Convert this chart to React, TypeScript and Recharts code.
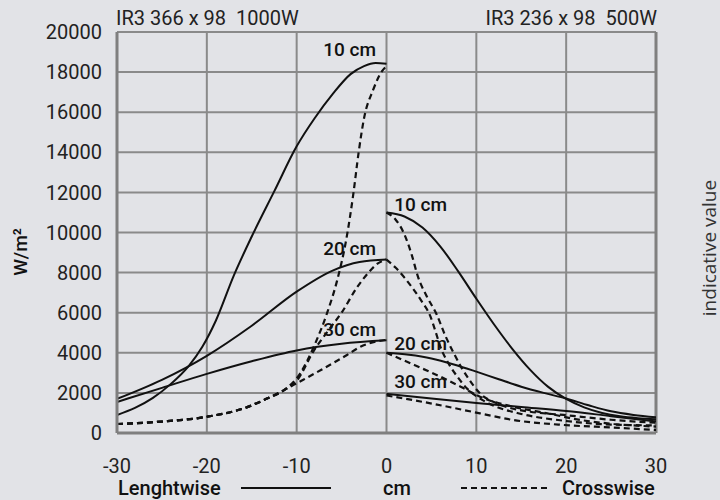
import {
  CartesianGrid,
  Line,
  LineChart,
  ReferenceDot,
  ReferenceLine,
  XAxis,
  YAxis,
} from 'recharts';

type Pt = [number, number];

// IR3 366 x 98 1000W (left half, cm -30..0)
const L10_LENGTH: Pt[] = [
  [-30, 900], [-28, 1250], [-26, 1750], [-24, 2450], [-22, 3350], [-20.5, 4300], [-19, 5600],
  [-17, 7850], [-15, 9800], [-12.5, 12050], [-10, 14300], [-8, 15700], [-6, 16900],
  [-4, 17900], [-2.5, 18300], [-1.2, 18450], [0, 18420],
];
const L20_LENGTH: Pt[] = [
  [-30, 1700], [-25, 2650], [-20, 3850], [-15, 5350], [-10, 7050], [-6, 8100], [-3, 8530], [0, 8650],
];
const L30_LENGTH: Pt[] = [
  [-30, 1550], [-25, 2250], [-20, 2950], [-15, 3580], [-10, 4120], [-5, 4450], [0, 4620],
];
const CROSS_START: Pt[] = [
  [-30, 450], [-25, 570], [-20, 810], [-15.5, 1290], [-13.3, 1720], [-11.4, 2140],
];
const L10_CROSS: Pt[] = [
  ...CROSS_START,
  [-9.6, 2980], [-8, 4400], [-6.6, 6000], [-5.5, 7600], [-4.5, 9600], [-3.7, 11900],
  [-3.1, 14000], [-2.5, 15700], [-1.5, 17100], [-0.5, 18050], [0, 18300],
];
const L20_CROSS: Pt[] = [
  ...CROSS_START,
  [-10, 2600], [-8.1, 4100], [-6.5, 5100], [-5, 6000], [-3.3, 7250], [-2, 8000], [-1, 8450], [0, 8650],
];
const L30_CROSS: Pt[] = [
  ...CROSS_START,
  [-10, 2480], [-7.3, 3140], [-4.4, 3890], [-2.9, 4300], [0, 4650],
];

// IR3 236 x 98 500W (right half, cm 0..30)
const R10_LENGTH: Pt[] = [
  [0, 11000], [2, 10800], [4, 10250], [6, 9300], [8, 8050], [10, 6700], [12, 5400], [14, 4200],
  [16, 3150], [18, 2300], [20, 1700], [22, 1280], [24, 1000], [26, 830], [28, 740], [30, 690],
];
const R20_LENGTH: Pt[] = [
  [0, 4000], [2.5, 3900], [5, 3720], [7.5, 3420], [10, 3060], [12.5, 2680], [15, 2310],
  [17.5, 2000], [20, 1720], [22.5, 1380], [25, 1080], [27.5, 900], [30, 780],
];
const R30_LENGTH: Pt[] = [
  [0, 1950], [5, 1720], [10, 1500], [15, 1300], [20, 1100], [25, 840], [30, 580],
];
const R10_CROSS: Pt[] = [
  [0, 11000], [1, 10650], [2, 9900], [2.8, 8900], [3.5, 7800], [4.5, 6800], [5.6, 5900],
  [6.5, 4900], [7.5, 3970], [8.3, 3300], [9, 2800], [10.4, 1980], [12.3, 1480], [14, 1220],
  [16, 1060], [19.7, 900], [25, 660], [30, 510],
];
const R10B_CROSS: Pt[] = [
  [0, 8650], [1, 8250], [2, 7750], [2.7, 7350], [3.8, 6650], [4.9, 5800], [5.5, 5000], [6, 4300],
  [7, 3400], [7.9, 2800], [9, 2200], [10.1, 1810], [12, 1350], [15, 950], [20, 600], [25, 420], [30, 380],
];
const R20_CROSS: Pt[] = [
  [0, 4000], [3.1, 3390], [6, 2810], [8.6, 2230], [10.4, 1810], [14.1, 1310], [17.9, 980],
  [21.6, 650], [25.3, 450], [30, 320],
];
const R30_CROSS: Pt[] = [
  [0, 1870], [4.9, 1480], [10.4, 980], [14.1, 650], [19.7, 400], [25.3, 270], [30, 150],
];

const LENGTHWISE = [L10_LENGTH, L20_LENGTH, L30_LENGTH, R10_LENGTH, R20_LENGTH, R30_LENGTH];
const CROSSWISE = [L10_CROSS, L20_CROSS, L30_CROSS, R10_CROSS, R10B_CROSS, R20_CROSS, R30_CROSS];

const X_TICKS = [-30, -20, -10, 0, 10, 20, 30];
const Y_TICKS = [0, 2000, 4000, 6000, 8000, 10000, 12000, 14000, 16000, 18000, 20000];

const CURVE_LABELS = [
  { x: -4.1, y: 19150, text: '10 cm' },
  { x: -4.1, y: 9210, text: '20 cm' },
  { x: -4.1, y: 5170, text: '30 cm' },
  { x: 3.8, y: 11420, text: '10 cm' },
  { x: 3.8, y: 4500, text: '20 cm' },
  { x: 3.8, y: 2560, text: '30 cm' },
];

const FONT = 'Roboto, "DejaVu Sans", sans-serif';
const BG = '#e2e3e7';
const GRID = '#8a8a8a';
const FRAME = '#7f7f7f';
const INK = '#111';

const toPts = (arr: Pt[]) => arr.map(([x, y]) => ({ x, y }));

const abs = (style: React.CSSProperties): React.CSSProperties => ({
  position: 'absolute',
  fontFamily: FONT,
  color: '#222',
  whiteSpace: 'pre',
  lineHeight: 1,
  ...style,
});

export default function App() {
  return (
    <div style={{ position: 'absolute', left: 0, top: 0, width: 720, height: 500, background: BG, overflow: 'hidden' }}>
      <LineChart width={720} height={500} margin={{ top: 32, right: 64, bottom: 22, left: 0 }}>
        <CartesianGrid stroke={GRID} strokeWidth={2} />
        <XAxis
          type="number"
          dataKey="x"
          domain={[-30, 30]}
          ticks={X_TICKS}
          height={45}
          tickLine={false}
          tickSize={0}
          tickMargin={26}
          axisLine={{ stroke: FRAME, strokeWidth: 3 }}
          tick={{ fill: '#222', fontSize: 20, fontFamily: FONT }}
          allowDataOverflow
        />
        <YAxis
          type="number"
          domain={[0, 20000]}
          ticks={Y_TICKS}
          width={117}
          tickLine={false}
          tickSize={0}
          tickMargin={15}
          axisLine={{ stroke: FRAME, strokeWidth: 3 }}
          tick={{ fill: '#222', fontSize: 20, fontFamily: FONT }}
          allowDataOverflow
        />
        <ReferenceLine x={30} stroke={FRAME} strokeWidth={3} />
        {LENGTHWISE.map((d, i) => (
          <Line
            key={`len${i}`}
            data={toPts(d)}
            dataKey="y"
            type="monotone"
            stroke={INK}
            strokeWidth={2}
            dot={false}
            activeDot={false}
            isAnimationActive={false}
          />
        ))}
        {CROSSWISE.map((d, i) => (
          <Line
            key={`cross${i}`}
            data={toPts(d)}
            dataKey="y"
            type="monotone"
            stroke={INK}
            strokeWidth={2.2}
            strokeDasharray="6 4"
            dot={false}
            activeDot={false}
            isAnimationActive={false}
          />
        ))}
        {CURVE_LABELS.map((l, i) => (
          <ReferenceDot
            key={`lbl${i}`}
            x={l.x}
            y={l.y}
            r={1}
            fill="none"
            stroke="none"
            ifOverflow="visible"
            label={{ value: l.text, position: 'center', fill: INK, fontSize: 19, fontWeight: 500, fontFamily: FONT }}
          />
        ))}
      </LineChart>

      <div style={abs({ left: 116, top: 8, fontSize: 20 })}>{'IR3 366 x 98  1000W'}</div>
      <div style={abs({ right: 720 - 657, top: 8, fontSize: 20 })}>{'IR3 236 x 98  500W'}</div>

      <div style={abs({ left: 20, top: 252, fontSize: 19, fontWeight: 500, color: INK, transform: 'translate(-50%, -50%) rotate(-90deg)' })}>
        W/m²
      </div>
      <div style={abs({ left: 709, top: 248, fontSize: 19, fontFamily: '"Open Sans", "Noto Sans", sans-serif', color: '#333', transform: 'translate(-50%, -50%) rotate(-90deg)' })}>
        indicative value
      </div>

      <div style={abs({ left: 118, top: 478, fontSize: 20, fontWeight: 500, color: INK })}>Lenghtwise</div>
      <svg style={{ position: 'absolute', left: 241, top: 485, overflow: 'visible' }} width={90} height={6}>
        <line x1={0} y1={3} x2={90} y2={3} stroke={INK} strokeWidth={2} />
      </svg>
      <div style={abs({ left: 383, top: 478, fontSize: 20, fontWeight: 500, color: INK })}>cm</div>
      <svg style={{ position: 'absolute', left: 461, top: 485, overflow: 'visible' }} width={90} height={6}>
        <line x1={0} y1={3} x2={90} y2={3} stroke={INK} strokeWidth={2} strokeDasharray="6 4" />
      </svg>
      <div style={abs({ left: 562, top: 478, fontSize: 20, fontWeight: 500, color: INK })}>Crosswise</div>
    </div>
  );
}
